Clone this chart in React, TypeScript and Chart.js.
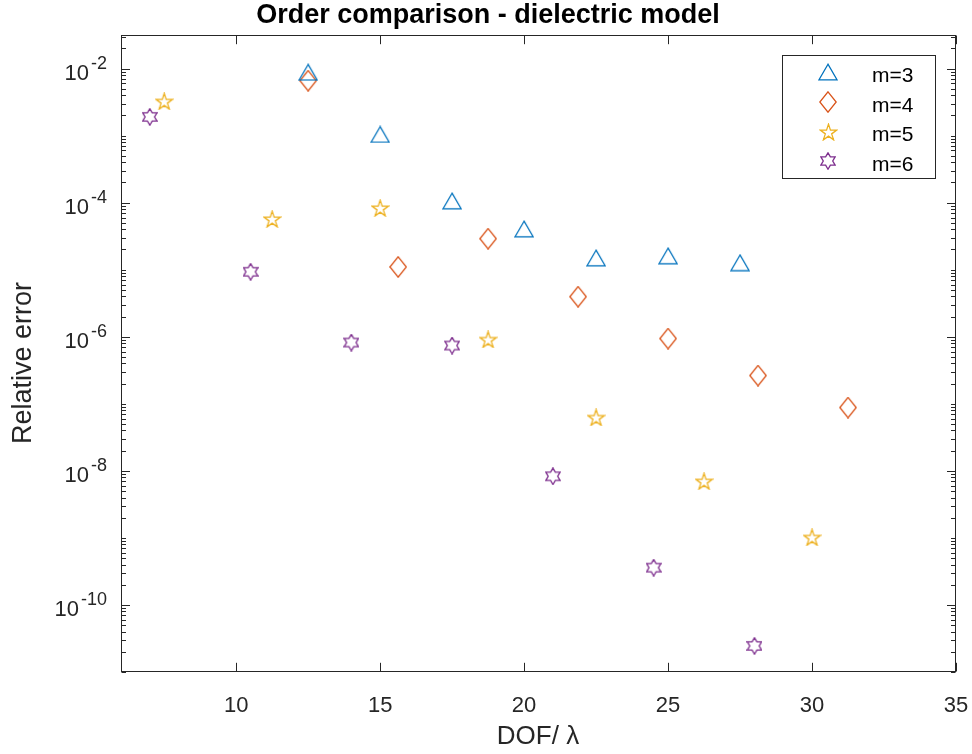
import React, { useEffect, useRef } from "react";
import { Chart, registerables } from "chart.js";

Chart.register(...registerables);

// ---- data ----
const seriesLabels = ["m=3", "m=4", "m=5", "m=6"];
const seriesColors = ["#0072BD", "#D95319", "#EDB120", "#7E2F8E"];
const seriesMarkers = ["triangle", "diamond", "star5", "hexagram"];

const xM3 = [12.5, 15, 17.5, 20, 22.5, 25, 27.5];
const yM3 = [8.8e-3, 1.04e-3, 1.06e-4, 4.06e-5, 1.5e-5, 1.61e-5, 1.27e-5];

const xM4 = [12.5, 15.625, 18.75, 21.875, 25, 28.125, 31.25];
const yM4 = [6.6e-3, 1.1e-5, 2.9e-5, 3.96e-6, 9.4e-7, 2.64e-7, 8.8e-8];

const xM5 = [7.5, 11.25, 15, 18.75, 22.5, 26.25, 30];
const yM5 = [3.25e-3, 5.7e-5, 8.3e-5, 9.1e-7, 6.25e-8, 7.0e-9, 1.02e-9];

const xM6 = [7, 10.5, 14, 17.5, 21, 24.5, 28];
const yM6 = [1.9e-3, 9.3e-6, 8.2e-7, 7.4e-7, 8.3e-9, 3.6e-10, 2.45e-11];

const xTickValues = [10, 15, 20, 25, 30, 35];
const yTickExponents = [-2, -4, -6, -8, -10];

const titleText = "Order comparison - dielectric model";
const xLabelText = "DOF/ λ";
const yLabelText = "Relative error";

const xMin = 6;
const xMax = 35;
const yMin = 1e-11;
const yMax = Math.pow(10, -1.5);

const FONT = "'Liberation Sans', Arial, Helvetica, sans-serif";
const AXIS_COLOR = "#262626";

function makeMarker(kind: string, color: string): HTMLCanvasElement {
  const c = document.createElement("canvas");
  let w = 20, h = 20;
  if (kind === "triangle") { w = 20; h = 18; }
  if (kind === "diamond") { w = 18; h = 22; }
  if (kind === "star5") { w = 19; h = 18; }
  if (kind === "hexagram") { w = 16; h = 18; }
  c.width = w;
  c.height = h;
  const ctx = c.getContext("2d")!;
  ctx.strokeStyle = color;
  ctx.lineWidth = 1.3;
  ctx.lineJoin = "miter";
  ctx.beginPath();
  if (kind === "triangle") {
    ctx.moveTo(w / 2, 1.2);
    ctx.lineTo(1, h - 1.2);
    ctx.lineTo(w - 1, h - 1.2);
    ctx.closePath();
  } else if (kind === "diamond") {
    ctx.moveTo(w / 2, 0.8);
    ctx.lineTo(w - 0.8, h / 2);
    ctx.lineTo(w / 2, h - 0.8);
    ctx.lineTo(0.8, h / 2);
    ctx.closePath();
  } else if (kind === "star5") {
    const R = 8.7;
    const r = R * 0.382;
    const cx = w / 2;
    const cy = h / 2 + 0.0955 * R;
    for (let i = 0; i < 10; i++) {
      const rad = i % 2 === 0 ? R : r;
      const a = -Math.PI / 2 + (i * Math.PI) / 5;
      const px = cx + rad * Math.cos(a);
      const py = cy + rad * Math.sin(a);
      if (i === 0) ctx.moveTo(px, py); else ctx.lineTo(px, py);
    }
    ctx.closePath();
  } else if (kind === "hexagram") {
    const R = 8.2;
    const r = R / Math.sqrt(3);
    const cx = w / 2;
    const cy = h / 2;
    for (let i = 0; i < 12; i++) {
      const rad = i % 2 === 0 ? R : r;
      const a = -Math.PI / 2 + (i * Math.PI) / 6;
      const px = cx + rad * Math.cos(a);
      const py = cy + rad * Math.sin(a);
      if (i === 0) ctx.moveTo(px, py); else ctx.lineTo(px, py);
    }
    ctx.closePath();
  }
  ctx.stroke();
  return c;
}

const matlabAxesPlugin = {
  id: "matlabAxes",
  afterDatasetsDraw(chart: any) {
    const ctx: CanvasRenderingContext2D = chart.ctx;
    const { left, right, top, bottom } = chart.chartArea;
    const xs = chart.scales.x;
    const ys = chart.scales.y;
    ctx.save();
    ctx.strokeStyle = AXIS_COLOR;
    ctx.lineWidth = 1;
    const L = Math.round(left) + 0.5;
    const R = Math.round(right) - 0.5;
    const T = Math.round(top) + 0.5;
    const B = Math.round(bottom) - 0.5;
    ctx.strokeRect(L, T, R - L, B - T);

    // x ticks (inside, bottom & top)
    ctx.beginPath();
    xTickValues.forEach((v) => {
      const px = Math.round(xs.getPixelForValue(v)) + 0.5;
      ctx.moveTo(px, B);
      ctx.lineTo(px, B - 8.7);
      ctx.moveTo(px, T);
      ctx.lineTo(px, T + 8.7);
    });
    // y ticks (major labelled decades + minor)
    for (let n = -12; n <= -1; n++) {
      for (let k = 1; k <= 9; k++) {
        const v = k * Math.pow(10, n);
        if (v < yMin * 0.999 || v > yMax * 1.001) continue;
        const py = Math.round(ys.getPixelForValue(v)) + 0.5;
        const major = k === 1 && yTickExponents.indexOf(n) >= 0;
        const len = major ? 8.5 : 4.5;
        ctx.moveTo(L, py);
        ctx.lineTo(L + len, py);
        ctx.moveTo(R, py);
        ctx.lineTo(R - len, py);
      }
    }
    ctx.stroke();

    // x tick labels
    ctx.fillStyle = AXIS_COLOR;
    ctx.font = `22px ${FONT}`;
    ctx.textAlign = "center";
    ctx.textBaseline = "alphabetic";
    xTickValues.forEach((v) => {
      const px = xs.getPixelForValue(v);
      ctx.fillText(String(v), px, bottom + 39.7);
    });

    // y tick labels 10^n
    yTickExponents.forEach((n) => {
      const py = ys.getPixelForValue(Math.pow(10, n));
      const rightEdge = left - 14;
      ctx.font = `18px ${FONT}`;
      ctx.textAlign = "right";
      const expStr = String(n);
      const ew = ctx.measureText(expStr).width;
      ctx.fillText(expStr, rightEdge, py + 0.5);
      ctx.font = `22px ${FONT}`;
      ctx.fillText("10", rightEdge - ew - 2, py + 11.5);
    });

    // axis labels
    ctx.font = `26px ${FONT}`;
    ctx.textAlign = "center";
    ctx.fillText(xLabelText, 538, 744);
    ctx.save();
    ctx.translate(31, 363);
    ctx.rotate(-Math.PI / 2);
    ctx.font = `27px ${FONT}`;
    ctx.fillText(yLabelText, 0, 0);
    ctx.restore();

    // title
    ctx.fillStyle = "#000000";
    ctx.font = `bold 27px ${FONT}`;
    ctx.textAlign = "center";
    ctx.fillText(titleText, 488, 22.7);
    ctx.restore();
  },
  afterDraw(chart: any) {
    const ctx: CanvasRenderingContext2D = chart.ctx;
    ctx.save();
    // legend box
    const bx = 782.5, by = 55.5, bw = 153, bh = 123;
    ctx.fillStyle = "#ffffff";
    ctx.fillRect(bx, by, bw, bh);
    ctx.strokeStyle = AXIS_COLOR;
    ctx.lineWidth = 1;
    ctx.strokeRect(bx, by, bw, bh);
    const rows = [72, 102, 131.5, 161];
    chart.data.datasets.forEach((ds: any, i: number) => {
      const img = ds.pointStyle as HTMLCanvasElement;
      const cy = rows[i];
      ctx.drawImage(img, Math.round(828 - img.width / 2), Math.round(cy - img.height / 2));
      ctx.fillStyle = "#000000";
      ctx.font = `21px ${FONT}`;
      ctx.textAlign = "left";
      ctx.textBaseline = "alphabetic";
      ctx.fillText(ds.label, 872, cy + 9.8);
    });
    ctx.restore();
  },
};

export default function App() {
  const canvasRef = useRef<HTMLCanvasElement | null>(null);

  useEffect(() => {
    const canvas = canvasRef.current;
    if (!canvas) return;
    const xsAll = [xM3, xM4, xM5, xM6];
    const ysAll = [yM3, yM4, yM5, yM6];
    const datasets = seriesLabels.map((label, i) => ({
      label,
      data: xsAll[i].map((x, j) => ({ x, y: ysAll[i][j] })),
      pointStyle: makeMarker(seriesMarkers[i], seriesColors[i]),
      pointRadius: 10,
      borderColor: seriesColors[i],
      backgroundColor: "transparent",
      showLine: false,
    }));
    const chart = new Chart(canvas, {
      type: "scatter",
      data: { datasets },
      options: {
        animation: false,
        responsive: false,
        maintainAspectRatio: false,
        layout: { padding: { left: 121, right: 16, top: 35, bottom: 82 } },
        scales: {
          x: { type: "linear", min: xMin, max: xMax, display: false },
          y: { type: "logarithmic", min: yMin, max: yMax, display: false },
        },
        plugins: {
          legend: { display: false },
          title: { display: false },
          tooltip: { enabled: false },
        },
      },
      plugins: [matlabAxesPlugin],
    } as any);
    return () => chart.destroy();
  }, []);

  return (
    <div style={{ position: "absolute", left: 0, top: 0, width: 972, height: 754, background: "#ffffff" }}>
      <canvas ref={canvasRef} width={972} height={754} style={{ display: "block" }} />
    </div>
  );
}
